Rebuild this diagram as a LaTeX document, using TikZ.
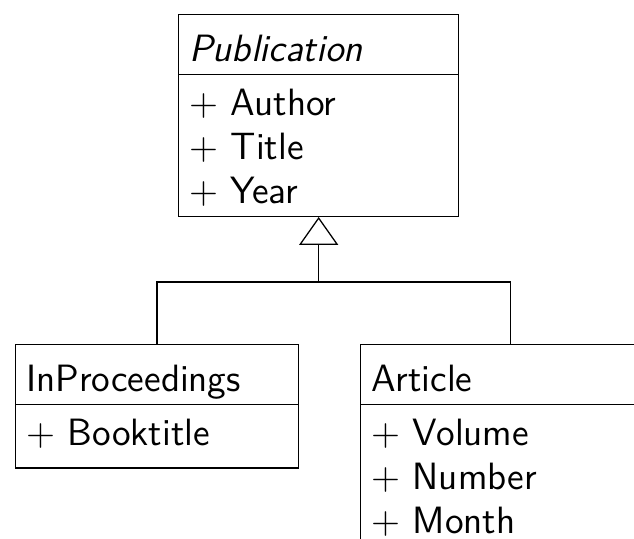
\documentclass[tikz,border=0pt]{standalone}
\usepackage{tikz}
\usetikzlibrary{arrows.meta,shapes.multipart}
\usepackage{amssymb,amsmath}

\newcommand{\umltitle}[1]{\rule[-1.0pt]{0pt}{12.8pt}\smash{#1}}

\begin{document}
\begin{tikzpicture}[x=0.3155pt,y=-0.3155pt,thin,
  umlclass/.style={draw,rectangle split,rectangle split parts=2,
    anchor=north west,align=left,inner xsep=3.33pt,inner ysep=2.83pt,
    font=\sffamily\fontsize{12}{14}\selectfont},
  inherit/.style={-{Triangle[open,length=8.8pt,width=12.3pt]}}]
  \useasboundingbox (0,0) rectangle (634,538);
  \clip (0,0) rectangle (634,538);
  \node[umlclass,text width=81.7pt] (pub) at (178,14)
    {\umltitle{\textit{Publication}}
     \nodepart{two}\strut$+$ Author\\$+$ Title\\$+$ Year};
  \node[umlclass,text width=82.6pt] (inproc) at (15,344)
    {\umltitle{InProceedings}
     \nodepart{two}\strut$+$ Booktitle};
  \node[umlclass,text width=88pt] (article) at (360,344)
    {\umltitle{Article}
     \nodepart{two}\strut$+$ Volume\\$+$ Number\\$+$ Month};
  \coordinate (fork) at (pub.south |- 0,282);
  \draw (inproc.north) |- (fork) -| (article.north);
  \draw[inherit] (fork) -- (pub.south);
\end{tikzpicture}
\end{document}
